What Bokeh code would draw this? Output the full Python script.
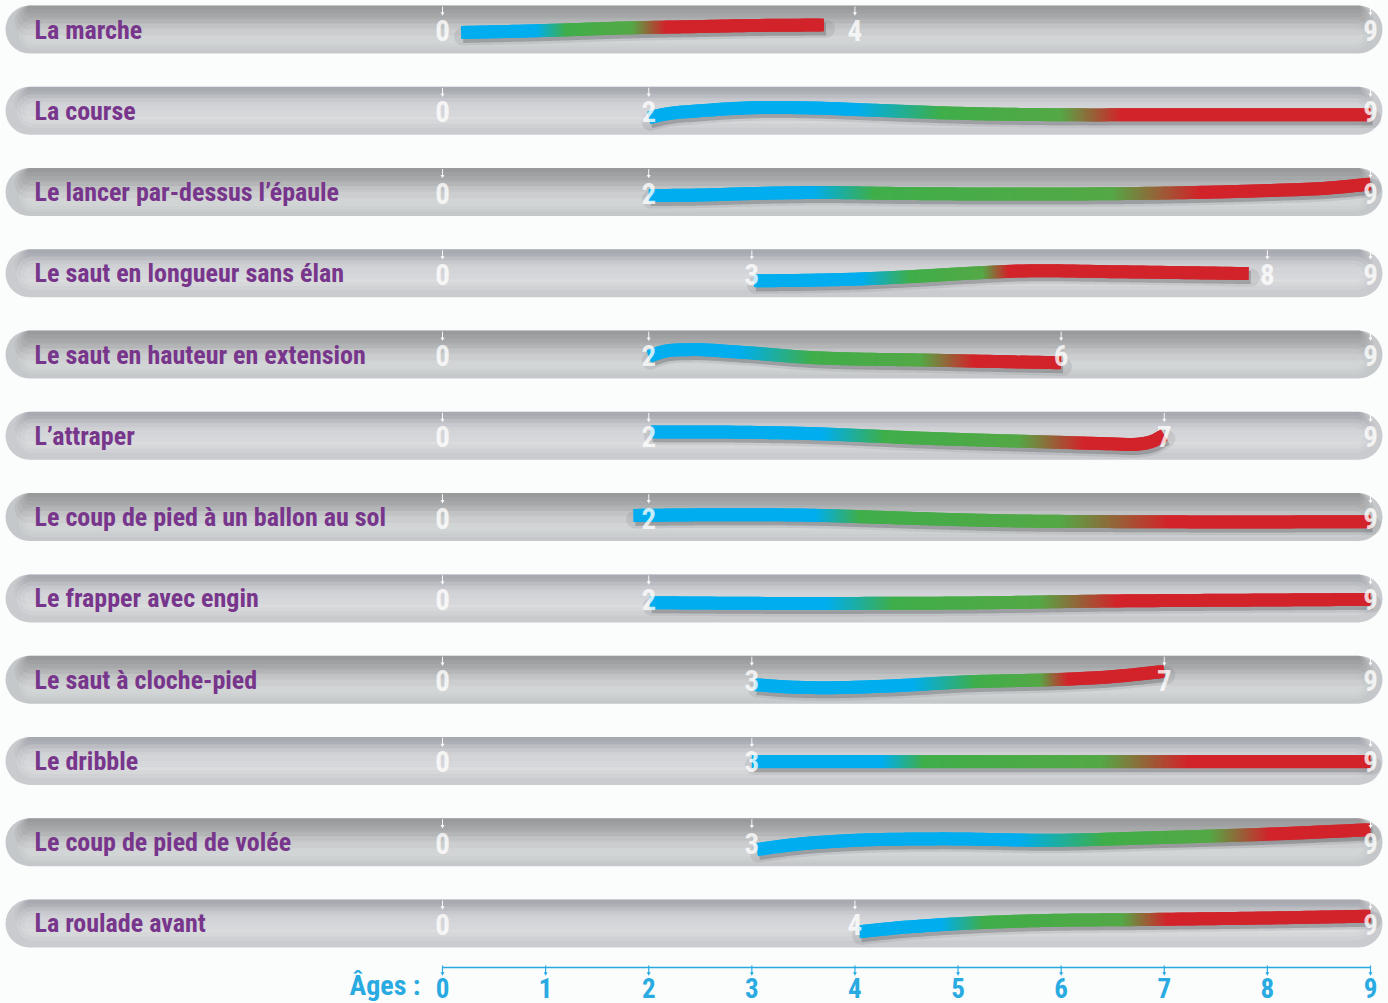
import numpy as np
from bokeh.plotting import figure
from bokeh.models import Range1d
from bokeh.core.properties import value
from bokeh.embed import file_html
from bokeh.resources import INLINE

# ---------------- data ----------------
activities = [
    "La marche", "La course", "Le lancer par-dessus l’épaule",
    "Le saut en longueur sans élan", "Le saut en hauteur en extension",
    "L’attraper", "Le coup de pied à un ballon au sol", "Le frapper avec engin",
    "Le saut à cloche-pied", "Le dribble", "Le coup de pied de volée",
    "La roulade avant",
]

# curve control points: ages, and vertical wiggle (px, + = down)
curve_ages = [
    [0.18, 1.0, 1.75, 2.5, 3.0, 3.7],
    [2.0, 2.15, 2.5, 3.0, 3.5, 4.2, 5.0, 6.0, 7.0, 9.0],
    [2.0, 2.5, 3.0, 3.6, 4.5, 5.5, 7.0, 8.0, 8.6, 9.0],
    [3.02, 3.5, 3.95, 4.6, 5.1, 5.6, 6.5, 7.3, 7.82],
    [2.0, 2.12, 2.4, 2.8, 3.5, 4.8, 6.0],
    [2.02, 3.0, 3.5, 4.7, 6.0, 6.5, 6.75, 6.9, 7.0],
    [1.85, 2.5, 3.15, 3.7, 4.1, 4.8, 5.5, 6.5, 7.0, 9.0],
    [2.01, 3.15, 4.0, 5.06, 6.48, 7.9, 9.0],
    [3.03, 3.3, 3.63, 4.34, 5.05, 6.0, 6.5, 7.0],
    [3.0, 9.0],
    [3.05, 3.4, 3.94, 4.77, 6.0, 6.84, 8.07, 9.0],
    [4.04, 4.4, 4.76, 5.59, 6.83, 8.07, 9.0],
]
curve_wiggle = [
    [3, 1, -1.5, -3, -4, -4.5],
    [7, 3.5, 0, -3, -3, -0.5, 2.5, 4, 4, 4],
    [3.5, 3, 1.5, 0.5, 1.5, 2, 1, -1.5, -4, -8],
    [7.5, 7, 6, 3, 0, -2.3, -1.6, -0.5, 0.3],
    [2, -2.5, -5, -3, 2.5, 5.7, 8.2],
    [-4, -3.5, -2.5, 2.5, 6.5, 8, 8.3, 5, -1],
    [-1.7, -2.3, -2.4, -1.6, -0.3, 2, 3.7, 4.5, 4.7, 4.7],
    [4.3, 5, 5, 4.6, 2.6, 1.7, 1],
    [5, 7, 8, 6.3, 2.3, -0.3, -3, -8.3],
    [0.7, 0.7],
    [7.3, 2.5, -1.6, -3.3, -2, -4.3, -8.3, -12.5],
    [8.3, 4.5, 1.7, -2.3, -4, -5.6, -7.3],
]
# colour stops (ages): blue ends, green starts, green ends, red starts
blue_end = [0.92, 4.03, 3.6, 4.08, 2.9, 3.7, 3.63, 3.73, 4.58, 4.27, 5.6, 4.85]
green_start = [1.21, 4.85, 4.2, 4.55, 3.6, 4.3, 4.06, 4.39, 5.19, 4.68, 6.43, 5.26]
green_end = [1.85, 6.0, 6.5, 5.25, 4.65, 5.6, 6.0, 5.8, 5.8, 6.4, 7.45, 6.6]
red_start = [2.18, 6.6, 7.36, 5.5, 5.16, 6.23, 7.05, 6.55, 6.07, 7.24, 8.03, 7.04]

# age numbers printed inside each bar
bar_numbers = [
    [0, 4, 9], [0, 2, 9], [0, 2, 9], [0, 3, 8, 9], [0, 2, 6, 9], [0, 2, 7, 9],
    [0, 2, 9], [0, 2, 9], [0, 3, 7, 9], [0, 3, 9], [0, 3, 9], [0, 4, 9],
]
axis_ticks = list(range(10))
axis_title = "Âges :"

# ---------------- layout ----------------
FIG_W, FIG_H = 1388, 1003
SCALE_X = 928 / 9.0          # px per year
ROW_PX = 81.27               # px between rows
X0_PX = 442                  # px of age 0
ROW0_PX = 29                 # px of first row centre
x_start = -X0_PX / SCALE_X
x_end = x_start + FIG_W / SCALE_X
y_top = -ROW0_PX / ROW_PX
y_bottom = y_top + FIG_H / ROW_PX


def px_x(px):
    return x_start + px / SCALE_X


def px_y(px):
    return px / ROW_PX


def row_of_px(py):
    return (py - ROW0_PX) / ROW_PX


FONT = value("Roboto Condensed, DejaVu Sans Condensed, Liberation Sans Narrow, Roboto, sans-serif")
PURPLE = "#77368b"
CYAN = "#29abe2"
BLUE = np.array([0, 174, 239], float)
GREEN = np.array([63, 174, 73], float)
GREEN2 = np.array([84, 168, 70], float)
RED = np.array([210, 35, 42], float)

p = figure(width=FIG_W, height=FIG_H, x_range=Range1d(x_start, x_end),
           y_range=Range1d(y_bottom, y_top), output_backend="svg",
           toolbar_location=None, min_border=0, x_axis_location=None,
           y_axis_location=None, background_fill_color="#fbfcfc",
           border_fill_color="#fbfcfc", outline_line_color=None)
p.grid.visible = False

rows = np.arange(len(activities))
R = 24  # half height px
BL, BR = px_x(5), px_x(1382)

# ---------------- bars ----------------
for parity, base, dark_a, light, light_a in [
    (0, "#c5c8ca", 0.075, [(14, 44), (18, 41), (22, 38)], 0.09),
    (1, "#c9cbce", 0.045, [(7, 41), (11, 37), (15, 33)], 0.13),
]:
    rr = rows[rows % 2 == parity]
    p.quad(left=BL, right=BR, top=rr - px_y(R), bottom=rr + px_y(R),
           fill_color=base, line_color=None, border_radius=R)
    for h in [30, 24, 18, 12, 8, 4]:
        off = (R - h / 2) / SCALE_X
        p.quad(left=BL + off, right=BR - off, top=rr - px_y(R),
               bottom=rr - px_y(R - h), fill_color="#4a4e54",
               fill_alpha=dark_a, line_color=None, border_radius=int(h // 2))
    for a, b in light:
        r = (b - a) // 2
        off = (R - r + 4) / SCALE_X
        p.quad(left=BL + off, right=BR - off, top=rr - px_y(R - a),
               bottom=rr - px_y(R - b), fill_color="#ffffff",
               fill_alpha=light_a, line_color=None, border_radius=int(r))


# ---------------- gradient curves ----------------
def smooth(xk, yk, n):
    xk = np.asarray(xk, float)
    yk = np.asarray(yk, float)
    m = np.gradient(yk, xk) if len(xk) > 2 else np.full(2, (yk[1] - yk[0]) / (xk[1] - xk[0]))
    xs = np.linspace(xk[0], xk[-1], n)
    idx = np.clip(np.searchsorted(xk, xs, side="right") - 1, 0, len(xk) - 2)
    h = xk[idx + 1] - xk[idx]
    t = (xs - xk[idx]) / h
    h00 = 2 * t**3 - 3 * t**2 + 1
    h10 = t**3 - 2 * t**2 + t
    h01 = -2 * t**3 + 3 * t**2
    h11 = t**3 - t**2
    ys = h00 * yk[idx] + h10 * h * m[idx] + h01 * yk[idx + 1] + h11 * h * m[idx + 1]
    return xs, ys


def colour_at(x, i):
    be, gs, ge, rs = blue_end[i], green_start[i], green_end[i], red_start[i]
    if x <= be:
        c = BLUE
    elif x < gs:
        t = (x - be) / (gs - be)
        c = BLUE + (GREEN - BLUE) * t
    elif x <= ge:
        t = (x - gs) / max(ge - gs, 1e-6)
        c = GREEN + (GREEN2 - GREEN) * t
    elif x < rs:
        t = (x - ge) / (rs - ge)
        c = GREEN2 + (RED - GREEN2) * t
    else:
        c = RED
    return "#%02x%02x%02x" % tuple(int(round(v)) for v in c)


LW = 13
for i in rows:
    xk = curve_ages[i]
    n = int((xk[-1] - xk[0]) * SCALE_X / 3) + 3
    xs, wig = smooth(xk, curve_wiggle[i], n)
    ys = i + px_y(wig)
    # shadow
    p.line(xs + 2 / SCALE_X, ys + px_y(4), line_width=LW + 5, line_color="#3a3d42",
           line_alpha=0.10, line_cap="round")
    p.line(xs + 2 / SCALE_X, ys + px_y(4), line_width=LW, line_color="#3a3d42",
           line_alpha=0.28, line_cap="butt")
    cols = [colour_at(0.5 * (xs[k] + xs[min(k + 2, n - 1)]), i) for k in range(n - 2)]
    p.segment(x0=xs[:-2], y0=ys[:-2], x1=xs[2:], y1=ys[2:], line_color=cols,
              line_width=LW, line_cap="butt")

# ---------------- numbers and arrows inside bars ----------------
nx, ny, ax_, ay0, ay1 = [], [], [], [], []
for i in rows:
    for a in bar_numbers[i]:
        nx.append(a)
        ny.append(i + px_y(1))
        ax_.append(a)
        ay0.append(i - px_y(R - 1))
        ay1.append(i - px_y(R - 8))
p.segment(x0=ax_, y0=ay0, x1=ax_, y1=ay1, line_color="#ffffff", line_width=1, line_alpha=0.9)
p.scatter(x=ax_, y=ay1, marker="inverted_triangle", size=4, fill_color="#ffffff",
          line_color=None, fill_alpha=0.9)
p.text(x=nx, y=ny, text=[str(v) for v in nx], text_font=FONT, text_font_size="29px",
       text_font_style="bold", text_color="#ffffff", text_alpha=0.78,
       text_align="center", text_baseline="middle")

# ---------------- activity labels ----------------
p.text(x=[px_x(34)] * len(rows), y=rows + px_y(0), text=activities, text_font=FONT,
       text_font_size="26px", text_font_style="bold", text_color=PURPLE,
       text_align="left", text_baseline="middle")

# ---------------- age axis ----------------
axis_y = row_of_px(967)
p.segment(x0=[axis_ticks[0]], y0=[axis_y], x1=[axis_ticks[-1]], y1=[axis_y],
          line_color=CYAN, line_width=1.6)
p.segment(x0=axis_ticks, y0=[axis_y - px_y(2)] * 10, x1=axis_ticks,
          y1=[axis_y + px_y(6)] * 10, line_color=CYAN, line_width=1.2)
p.scatter(x=axis_ticks, y=[axis_y + px_y(6)] * 10, marker="inverted_triangle", size=4,
          fill_color=CYAN, line_color=None)
p.text(x=axis_ticks, y=[row_of_px(987)] * 10, text=[str(t) for t in axis_ticks],
       text_font=FONT, text_font_size="27px", text_font_style="bold", text_color=CYAN,
       text_align="center", text_baseline="middle")
p.text(x=[px_x(420)], y=[row_of_px(985)], text=[axis_title], text_font=FONT,
       text_font_size="28px", text_font_style="bold", text_color=CYAN,
       text_align="right", text_baseline="middle")

open("out.html", "w").write(file_html(p, INLINE))
